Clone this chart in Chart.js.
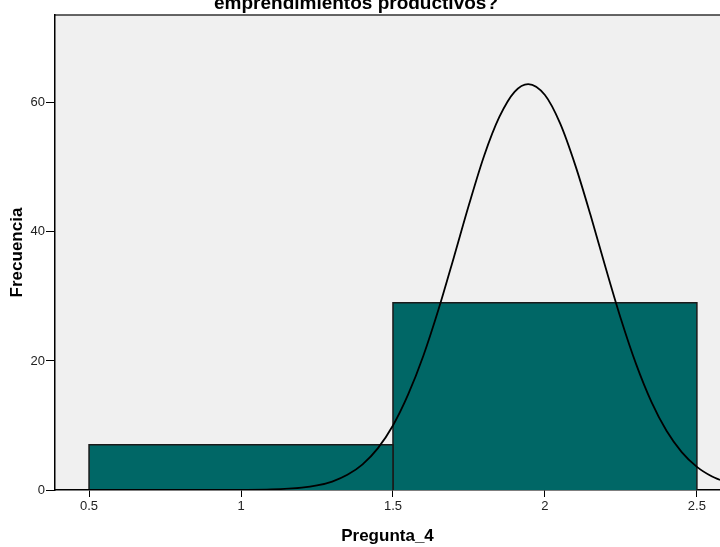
<!DOCTYPE html>
<html>
<head>
<meta charset="utf-8">
<script src="https://cdn.jsdelivr.net/npm/chart.js@4.4.1/dist/chart.umd.min.js"></script>
<style>
  html, body { margin: 0; padding: 0; background: #ffffff; }
  #wrap { width: 720px; height: 547px; position: relative; }
</style>
</head>
<body>
<div id="wrap"><canvas id="hist"></canvas></div>
<script>
// histogram bins for Pregunta_4
const binStart = [0.5, 1.5];
const binEnd = [1.5, 2.5];
const binCount = [7, 29];

// normal curve overlaid on the histogram
const curveX = [0.39, 0.6, 0.8, 1.0, 1.1, 1.2, 1.25, 1.3, 1.35, 1.4, 1.45, 1.5, 1.55, 1.6, 1.65, 1.7, 1.75, 1.8, 1.85, 1.9, 1.945, 2.0, 2.05, 2.1, 2.15, 2.2, 2.25, 2.3, 2.35, 2.4, 2.45, 2.5, 2.55, 2.576];
const curveY = [0, 0, 0, 0.02, 0.08, 0.36, 0.7, 1.31, 2.35, 3.98, 6.45, 9.99, 14.8, 20.8, 28.0, 36.0, 44.2, 51.8, 57.8, 61.7, 62.9, 61.2, 56.8, 50.3, 42.6, 34.4, 26.5, 19.5, 13.7, 9.18, 5.88, 3.59, 2.09, 1.56];

const xTicks = [0.5, 1, 1.5, 2, 2.5];
const yTicks = [0, 20, 40, 60];

const titleText = "emprendimientos productivos?";
const xTitle = "Pregunta_4";
const yTitle = "Frecuencia";

const barColor = "#006766";
const plotBg = "#f0f0f0";

// each bin is a closed outline filled down to zero
const binSets = binCount.map((c, i) => ({
  type: "line",
  data: [
    { x: binStart[i], y: 0 },
    { x: binStart[i], y: c },
    { x: binEnd[i], y: c },
    { x: binEnd[i], y: 0 },
  ],
  borderColor: "#1a1a1a",
  borderWidth: 1.5,
  backgroundColor: barColor,
  fill: "origin",
  pointRadius: 0,
  tension: 0,
  order: 2,
}));

const curveSet = {
  type: "line",
  data: curveX.map((x, i) => ({ x: x, y: curveY[i] })),
  borderColor: "#000000",
  borderWidth: 1.8,
  fill: false,
  pointRadius: 0,
  cubicInterpolationMode: "monotone",
  order: 1,
};

const plotBackground = {
  id: "plotBackground",
  beforeDraw(chart) {
    const { ctx, chartArea: a } = chart;
    ctx.save();
    ctx.fillStyle = plotBg;
    ctx.fillRect(a.left, a.top, a.right - a.left, a.bottom - a.top);
    ctx.strokeStyle = "#333333";
    ctx.lineWidth = 1.5;
    ctx.beginPath();
    ctx.moveTo(a.left, a.top);
    ctx.lineTo(a.right, a.top);
    ctx.stroke();
    ctx.restore();
  },
  afterDraw(chart) {
    // title sits above the plot, partly off the top edge
    const { ctx } = chart;
    ctx.save();
    ctx.fillStyle = "#000000";
    ctx.font = "bold 19px 'Liberation Sans', Arial, sans-serif";
    ctx.textAlign = "center";
    ctx.textBaseline = "alphabetic";
    ctx.fillText(titleText, 356, 9);
    ctx.restore();
  },
};

const tickFont = { family: "'Liberation Sans', Arial, sans-serif", size: 13 };
const titleFont = { family: "'Liberation Sans', Arial, sans-serif", size: 17, weight: "bold" };

new Chart(document.getElementById("hist"), {
  data: { datasets: [...binSets, curveSet] },
  options: {
    responsive: true,
    maintainAspectRatio: false,
    animation: false,
    layout: { padding: { top: 15, right: 0, left: 0, bottom: 0 } },
    plugins: {
      legend: { display: false },
      tooltip: { enabled: false },
    },
    scales: {
      x: {
        type: "linear",
        min: 0.388,
        max: 2.576,
        afterBuildTicks: (s) => { s.ticks = xTicks.map((v) => ({ value: v })); },
        afterFit: (s) => { s.height = 57; },
        ticks: {
          color: "#222222",
          font: tickFont,
          padding: 2,
          maxRotation: 0,
          callback: (v) => String(v),
        },
        grid: { drawOnChartArea: false, drawTicks: true, tickLength: 7, color: "#000000" },
        border: { color: "#000000", width: 1.5 },
        title: { display: true, text: xTitle, color: "#000000", font: titleFont, padding: { top: 0, bottom: 0 } },
      },
      y: {
        type: "linear",
        min: 0,
        max: 73.6,
        afterBuildTicks: (s) => { s.ticks = yTicks.map((v) => ({ value: v })); },
        afterFit: (s) => { s.width = 55; },
        ticks: { color: "#222222", font: tickFont, padding: 1 },
        grid: { drawOnChartArea: false, drawTicks: true, tickLength: 9, color: "#000000" },
        border: { color: "#000000", width: 1.5 },
        title: { display: true, text: yTitle, color: "#000000", font: titleFont, padding: { top: 7, bottom: 0 } },
      },
    },
  },
  plugins: [plotBackground],
});
</script>
</body>
</html>
